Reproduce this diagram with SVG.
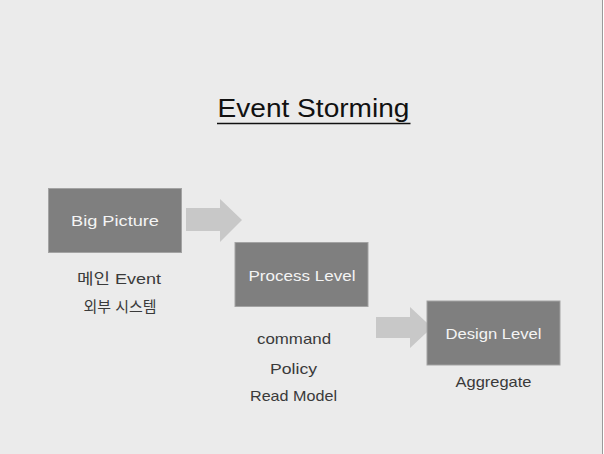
<svg xmlns="http://www.w3.org/2000/svg" width="604" height="454" viewBox="0 0 604 454">
<style>
.bg{fill:#ebebeb}
.box{fill:#7f7f7f;stroke:#a3a3a3;stroke-width:1}
.arrow{fill:#c8c8c8}
text{font-family:"Liberation Sans","Noto Sans CJK KR",sans-serif;text-anchor:middle;dominant-baseline:central}
.in{fill:#f4f4f4;font-size:15px}
.lbl{fill:#3a3a3a;font-size:15px}
.title{fill:#111;font-size:25px}
</style>
<rect class="bg" x="0" y="0" width="604" height="454"/>
<rect x="603" y="0" width="1" height="454" fill="#ffffff"/>
<line x1="602.5" y1="0" x2="602.5" y2="454" stroke="#9a9a9a" stroke-width="1"/>
<g id="title">
<text class="title" x="313.5" y="108" textLength="192" lengthAdjust="spacingAndGlyphs">Event Storming</text>
<line x1="217" y1="123.5" x2="410.5" y2="123.5" stroke="#111" stroke-width="1.6"/>
</g>
<g id="connectors">
<polygon class="arrow" points="186,208 220,208 220,199 242,220 220,242 220,231 186,231"/>
<polygon class="arrow" points="376,317 410,317 410,307 432,327.5 410,348 410,338 376,338"/>
</g>
<g id="big-picture">
<rect class="box" x="48.5" y="188.5" width="133" height="64"/>
<text class="in" x="115" y="220.5" textLength="88" lengthAdjust="spacingAndGlyphs">Big Picture</text>
<text class="lbl" x="119" y="278" textLength="84" lengthAdjust="spacingAndGlyphs">메인 Event</text>
<text class="lbl" x="120" y="306" textLength="73" lengthAdjust="spacingAndGlyphs">외부 시스템</text>
</g>
<g id="process-level">
<rect class="box" x="235" y="242.5" width="133" height="64"/>
<text class="in" x="302" y="275" textLength="107" lengthAdjust="spacingAndGlyphs">Process Level</text>
<text class="lbl" x="294" y="338" textLength="74" lengthAdjust="spacingAndGlyphs">command</text>
<text class="lbl" x="293.5" y="368" textLength="47" lengthAdjust="spacingAndGlyphs">Policy</text>
<text class="lbl" x="293.5" y="395" textLength="87" lengthAdjust="spacingAndGlyphs">Read Model</text>
</g>
<g id="design-level">
<rect class="box" x="427" y="301" width="133" height="64"/>
<text class="in" x="493.5" y="333" textLength="96" lengthAdjust="spacingAndGlyphs">Design Level</text>
<text class="lbl" x="493.5" y="381.5" textLength="76" lengthAdjust="spacingAndGlyphs">Aggregate</text>
</g>
</svg>
